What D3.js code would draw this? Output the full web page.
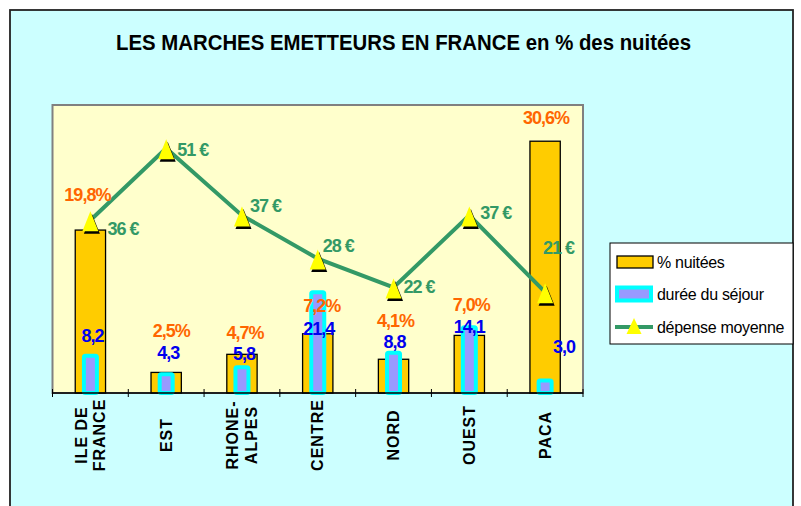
<!DOCTYPE html>
<html lang="fr">
<head>
<meta charset="utf-8">
<title>Les marchés émetteurs en France</title>
<script src="https://d3js.org/d3.v7.min.js"></script>
<style>
    body { margin: 0; background: #fff; }
    svg text { font-family: "Liberation Sans", Arial, sans-serif; }
</style>
</head>
<body>
<div id="chart"></div>
<script>
    // data
    var categories = [["ILE DE", "FRANCE"], ["EST"], ["RHONE-", "ALPES"], ["CENTRE"], ["NORD"], ["OUEST"], ["PACA"]];
    var nuitees = [19.8, 2.5, 4.7, 7.2, 4.1, 7.0, 30.6];      // % nuitées
    var duree = [8.2, 4.3, 5.8, 21.4, 8.8, 14.1, 3.0];         // durée du séjour
    var depense = [36, 51, 37, 28, 22, 37, 21];                // dépense moyenne (€)
    var seriesNames = ["% nuitées", "durée du séjour", "dépense moyenne"];

    // label nudges (px), labels were hand placed in the original
    var nuiteesShift = [[-3, -35], [5, -42], [3, -22], [4, -28], [2, -39], [2, -31], [1, -24]];
    var dureeShift = [[2, -18], [2, -20], [2, -11], [1, 38], [1, -9], [0, 1], [19, -32]];
    var depenseShift = [[17, 8], [11, 1], [8, -10], [5, -13], [10, -1], [11, -3], [-2, -45]];

    var W = 801, H = 506;
    var plot = {left: 52.5, right: 583, top: 105, bottom: 393};

    var fr = d3.formatLocale({decimal: ",", thousands: " ", grouping: [3], currency: ["", " €"]});
    var fmt1 = fr.format(".1f");

    var svg = d3.select("#chart").append("svg")
        .attr("width", W)
        .attr("height", H);

    // outer frame
    svg.append("rect")
        .attr("x", 10).attr("y", 10)
        .attr("width", 783).attr("height", 520)
        .attr("fill", "#CCFFFF")
        .attr("stroke", "#222")
        .attr("stroke-width", 1.8);

    svg.append("text")
        .attr("x", 403.5).attr("y", 50)
        .attr("text-anchor", "middle")
        .attr("font-size", 22)
        .attr("font-weight", "bold")
        .attr("textLength", 575)
        .attr("lengthAdjust", "spacingAndGlyphs")
        .text("LES MARCHES EMETTEURS EN FRANCE en % des nuitées");

    // plot area
    svg.append("rect")
        .attr("x", plot.left).attr("y", plot.top)
        .attr("width", plot.right - plot.left).attr("height", plot.bottom - plot.top)
        .attr("fill", "#FFFFCC")
        .attr("stroke", "#808080")
        .attr("stroke-width", 2);

    var x = d3.scaleBand()
        .domain(d3.range(categories.length))
        .range([plot.left, plot.right])
        .padding(0);
    var yPct = d3.scaleLinear().domain([0, 35]).range([plot.bottom, plot.top]);
    var y2 = d3.scaleLinear().domain([0, 60]).range([plot.bottom, plot.top]);
    var cx = function (i) { return x(i) + x.bandwidth() / 2; };

    var barW = x.bandwidth() * 0.4;
    svg.append("g").selectAll("rect")
        .data(nuitees)
        .enter().append("rect")
        .attr("x", (d, i) => cx(i) - barW / 2)
        .attr("y", d => yPct(d))
        .attr("width", barW)
        .attr("height", d => yPct(0) - yPct(d))
        .attr("fill", "#FFCC00")
        .attr("stroke", "#000")
        .attr("stroke-width", 1.3);

    var durW = 13;
    svg.append("g").selectAll("rect")
        .data(duree)
        .enter().append("rect")
        .attr("x", (d, i) => cx(i) - durW / 2)
        .attr("y", d => y2(d) + 2)
        .attr("width", durW)
        .attr("height", d => y2(0) - y2(d) - 2)
        .attr("rx", 1.5)
        .attr("fill", "#9999FF")
        .attr("stroke", "#00FFFF")
        .attr("stroke-width", 4);

    // x axis with crossing ticks
    var axis = svg.append("g");
    axis.append("line")
        .attr("x1", plot.left).attr("x2", plot.right)
        .attr("y1", plot.bottom).attr("y2", plot.bottom)
        .attr("stroke", "#000").attr("stroke-width", 1.3);
    axis.selectAll(".tick")
        .data(d3.range(categories.length + 1))
        .enter().append("line")
        .attr("x1", i => plot.left + i * x.bandwidth())
        .attr("x2", i => plot.left + i * x.bandwidth())
        .attr("y1", plot.bottom - 4).attr("y2", plot.bottom + 4)
        .attr("stroke", "#000").attr("stroke-width", 1);

    var catLabels = axis.selectAll(".cat")
        .data(categories)
        .enter().append("text")
        .attr("transform", (d, i) => "translate(" + cx(i) + ",435) rotate(-90)")
        .attr("text-anchor", "middle")
        .attr("font-size", 16)
        .attr("font-weight", "bold")
        .attr("letter-spacing", 1);
    catLabels.selectAll("tspan")
        .data(d => d.map((t, j) => ({t: t, off: (j - (d.length - 1) / 2) * 19})))
        .enter().append("tspan")
        .attr("x", 0)
        .attr("y", d => d.off)
        .attr("dy", "0.35em")
        .text(d => d.t);

    // dépense moyenne line
    var line = d3.line()
        .x((d, i) => cx(i))
        .y(d => y2(d));
    svg.append("path")
        .attr("d", line(depense))
        .attr("fill", "none")
        .attr("stroke", "#339966")
        .attr("stroke-width", 4);

    var tri = "M0,-11L8,9L-8,9Z";
    var markers = svg.append("g").selectAll("g")
        .data(depense)
        .enter().append("g")
        .attr("transform", (d, i) => "translate(" + cx(i) + "," + (y2(d) + 2) + ")");
    markers.append("path").attr("d", tri)
        .attr("transform", "translate(1.5,2.5)")
        .attr("fill", "#000");
    markers.append("path").attr("d", tri)
        .attr("fill", "#FFFF00");

    // value labels
    var labels = svg.append("g")
        .attr("font-size", 18)
        .attr("font-weight", "bold")
        .attr("letter-spacing", -1);

    labels.selectAll(".pct")
        .data(nuitees)
        .enter().append("text")
        .attr("x", (d, i) => cx(i) + nuiteesShift[i][0])
        .attr("y", (d, i) => yPct(d) + nuiteesShift[i][1])
        .attr("dy", "0.35em")
        .attr("text-anchor", "middle")
        .attr("fill", "#FF6600")
        .text(d => fmt1(d) + "%");

    labels.selectAll(".dur")
        .data(duree)
        .enter().append("text")
        .attr("x", (d, i) => cx(i) + dureeShift[i][0])
        .attr("y", (d, i) => y2(d) + dureeShift[i][1])
        .attr("dy", "0.35em")
        .attr("text-anchor", "middle")
        .attr("fill", "#0000EE")
        .text(d => fmt1(d));

    labels.selectAll(".dep")
        .data(depense)
        .enter().append("text")
        .attr("x", (d, i) => cx(i) + depenseShift[i][0])
        .attr("y", (d, i) => y2(d) + depenseShift[i][1])
        .attr("dy", "0.35em")
        .attr("text-anchor", "start")
        .attr("fill", "#339966")
        .text(d => d + " €");

    // legend
    var lg = svg.append("g").attr("transform", "translate(610,243)");
    lg.append("rect")
        .attr("width", 183).attr("height", 101)
        .attr("fill", "#fff")
        .attr("stroke", "#000").attr("stroke-width", 1);
    var rows = [19, 51, 84];
    lg.append("rect")
        .attr("x", 7).attr("y", rows[0] - 6)
        .attr("width", 36).attr("height", 12)
        .attr("fill", "#FFCC00").attr("stroke", "#000").attr("stroke-width", 1.3);
    lg.append("rect")
        .attr("x", 7).attr("y", rows[1] - 6.5)
        .attr("width", 34).attr("height", 13)
        .attr("fill", "#9999FF").attr("stroke", "#00FFFF").attr("stroke-width", 4);
    lg.append("line")
        .attr("x1", 5).attr("x2", 43)
        .attr("y1", rows[2]).attr("y2", rows[2])
        .attr("stroke", "#339966").attr("stroke-width", 4);
    lg.append("path")
        .attr("d", "M0,-9L7.5,7L-7.5,7Z")
        .attr("transform", "translate(24," + rows[2] + ")")
        .attr("fill", "#FFFF00");
    lg.selectAll(".lt")
        .data(seriesNames)
        .enter().append("text")
        .attr("x", 47)
        .attr("y", (d, i) => rows[i])
        .attr("dy", "0.35em")
        .attr("font-size", 16)
        .attr("letter-spacing", -0.3)
        .text(d => d);
</script>
</body>
</html>
